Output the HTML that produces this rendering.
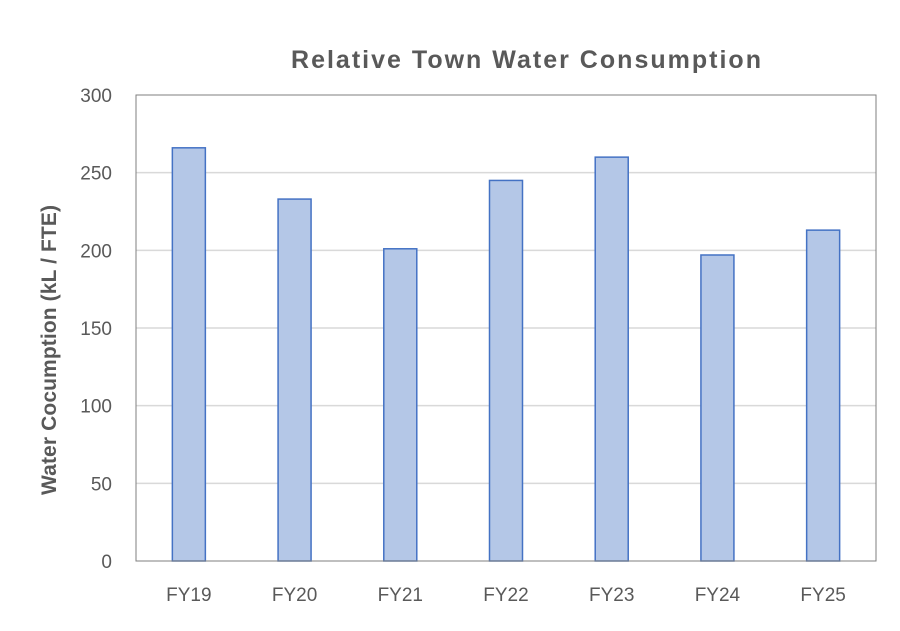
<!DOCTYPE html>
<html><head><meta charset="utf-8"><style>
body{margin:0;background:#fff;font-family:"Liberation Sans",sans-serif}
</style></head><body>
<svg id="chart" width="900" height="626" xmlns="http://www.w3.org/2000/svg">
<text x="526" y="68" text-anchor="middle" font-size="25" font-weight="bold" fill="#595959" textLength="470" lengthAdjust="spacing">Relative Town Water Consumption</text>
<text transform="translate(56,350) rotate(-90)" text-anchor="middle" font-size="21" font-weight="bold" fill="#595959" textLength="290" lengthAdjust="spacing">Water Cocumption (kL / FTE)</text>
<g id="grid"></g><g id="bars"></g><g id="ticks"></g>
<rect x="136" y="95" width="740" height="466" fill="none" stroke="#7f7f7f" stroke-width="1"/>
</svg>
<script>
const categories=["FY19","FY20","FY21","FY22","FY23","FY24","FY25"];
const values=[266,233,201,245,260,197,213];
const yTicks=[0,50,100,150,200,250,300];
const L=136,R=876,T=95,B=561,ymax=300;
const ns="http://www.w3.org/2000/svg";
function y(v){return B-(v/ymax)*(B-T);}
function xc(i){return L+(i+0.5)*(R-L)/categories.length;}
const grid=document.getElementById('grid'),bars=document.getElementById('bars'),ticks=document.getElementById('ticks');
yTicks.forEach(t=>{
 if(t>0&&t<ymax){const l=document.createElementNS(ns,'line');
 l.setAttribute('x1',L);l.setAttribute('x2',R);l.setAttribute('y1',y(t));l.setAttribute('y2',y(t));
 l.setAttribute('stroke','#d9d9d9');l.setAttribute('stroke-width','1.5');
 
 
 grid.appendChild(l);}
 const tx=document.createElementNS(ns,'text');
 tx.setAttribute('x',112);tx.setAttribute('y',y(t)+7);tx.setAttribute('text-anchor','end');
 tx.setAttribute('font-size','19');tx.setAttribute('fill','#595959');tx.textContent=t;
 
 
 ticks.appendChild(tx);
});
categories.forEach((c,i)=>{
 const w=33;
 const r=document.createElementNS(ns,'rect');
 r.setAttribute('x',xc(i)-w/2);r.setAttribute('y',y(values[i]));r.setAttribute('width',w);r.setAttribute('height',B-y(values[i]));
 r.setAttribute('fill','#b4c7e7');r.setAttribute('stroke','#4472c4');r.setAttribute('stroke-width','1.5');
 
 
 bars.appendChild(r);
 const tx=document.createElementNS(ns,'text');
 tx.setAttribute('x',xc(i));tx.setAttribute('y',601);tx.setAttribute('text-anchor','middle');
 tx.setAttribute('font-size','19');tx.setAttribute('fill','#595959');tx.textContent=c;
 
 
 ticks.appendChild(tx);
});
</script>
</body></html>
